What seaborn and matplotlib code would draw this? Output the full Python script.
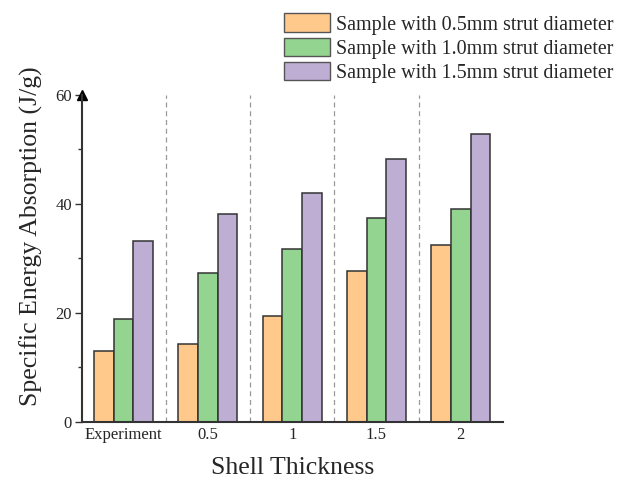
import matplotlib
matplotlib.use("Agg")
import matplotlib.pyplot as plt
import seaborn as sns
import pandas as pd
from matplotlib.patches import Patch
from matplotlib.ticker import MultipleLocator

categories = ["Experiment", "0.5", "1", "1.5", "2"]
series_names = ["Sample with 0.5mm strut diameter",
                "Sample with 1.0mm strut diameter",
                "Sample with 1.5mm strut diameter"]
strut_05 = [13.0, 14.3, 19.4, 27.6, 32.5]
strut_10 = [18.9, 27.2, 31.7, 37.3, 39.0]
strut_15 = [33.2, 38.1, 42.0, 48.2, 52.8]
colors = ["#FFC98B", "#92D490", "#BFAED4"]

rows = []
for name, vals in zip(series_names, [strut_05, strut_10, strut_15]):
    for c, v in zip(categories, vals):
        rows.append({"Shell": c, "SEA": v, "Series": name})
df = pd.DataFrame(rows)

sns.set_style("ticks")
plt.rcParams["font.family"] = ["Liberation Serif", "DejaVu Serif"]

fig = plt.figure(figsize=(6.27, 4.84), dpi=100)
ax = fig.add_axes([0.130, 0.129, 0.672, 0.675])

sns.barplot(data=df, x="Shell", y="SEA", hue="Series", order=categories,
            hue_order=series_names, palette=colors, width=0.7, gap=0,
            edgecolor="#333333", linewidth=1.1, saturation=1, ax=ax,
            legend=False, errorbar=None)

ax.set_xlim(-0.5, 4.5)
ax.set_ylim(0, 60)
ax.yaxis.set_major_locator(MultipleLocator(20))
ax.yaxis.set_minor_locator(MultipleLocator(10))
ax.tick_params(axis="y", which="major", length=5, width=1.0, color="#333333",
               labelsize=12, direction="out", pad=2)
ax.tick_params(axis="y", which="minor", length=3, width=1.0, color="#333333",
               direction="out")
ax.tick_params(axis="x", length=0, labelsize=12, pad=4)

for x in [0.5, 1.5, 2.5, 3.5]:
    ax.axvline(x, color="#999999", linestyle=(0, (4, 3)), linewidth=0.9, zorder=0)

sns.despine(ax=ax)
for s in ["left", "bottom"]:
    ax.spines[s].set_color("#333333")
    ax.spines[s].set_linewidth(1.5)

ax.plot([0], [1.0], marker="^", color="black", markersize=7,
        transform=ax.transAxes, clip_on=False)

ax.set_xlabel("Shell Thickness", fontsize=18.5, labelpad=10)
ax.set_ylabel("Specific Energy Absorption (J/g)", fontsize=18.5, labelpad=9)
ax.yaxis.label.set_y(0.567)

handles = [Patch(facecolor=c, edgecolor="#555555", linewidth=1.0) for c in colors]
fig.legend(handles, series_names, loc="upper right", bbox_to_anchor=(0.998, 0.997),
           frameon=False, fontsize=14.4, handlelength=2.3, handleheight=1.05,
           handletextpad=0.3, labelspacing=0.15, borderaxespad=0.2)

fig.savefig("out.png", dpi=100)
